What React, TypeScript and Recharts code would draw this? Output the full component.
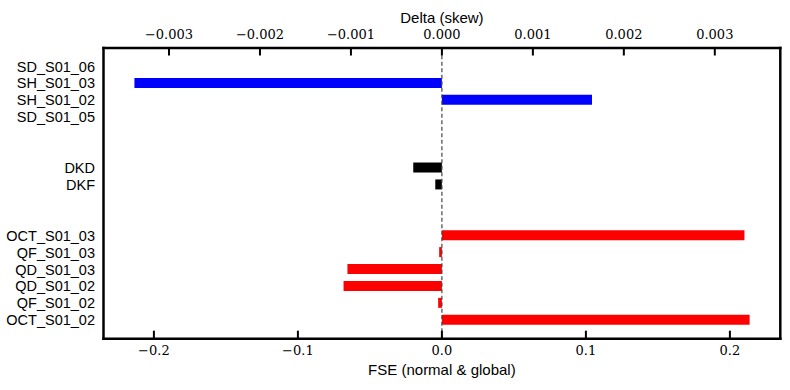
import React from "react";
import { BarChart, Bar, XAxis, YAxis, Cell, ReferenceLine } from "recharts";

// row ids (gap rows keep the groups apart)
const rowIds = [
  "SD_S01_06", "SH_S01_03", "SH_S01_02", "SD_S01_05",
  "gap1", "gap2",
  "DKD", "DKF",
  "gap3", "gap4",
  "OCT_S01_03", "QF_S01_03", "QD_S01_03", "QD_S01_02", "QF_S01_02", "OCT_S01_02",
];

// FSE (normal & global), bottom axis
const fseValues = [
  null, null, null, null,
  null, null,
  -0.0199, -0.0046,
  null, null,
  0.2101, -0.0019, -0.0656, -0.0683, -0.0026, 0.2137,
];

// Delta (skew), top axis
const skewValues = [
  null, -0.00338, 0.00165, null,
  null, null,
  null, null,
  null, null,
  null, null, null, null, null, null,
];

const rowColors = [
  "#0000ff", "#0000ff", "#0000ff", "#0000ff",
  "#000000", "#000000",
  "#000000", "#000000",
  "#ff0000", "#ff0000",
  "#ff0000", "#ff0000", "#ff0000", "#ff0000", "#ff0000", "#ff0000",
];

const fseTicks = [-0.2, -0.1, 0, 0.1, 0.2];
const skewTicks = [-0.003, -0.002, -0.001, 0, 0.001, 0.002, 0.003];

const data = rowIds.map((id, i) => ({ id, fse: fseValues[i], skew: skewValues[i] }));

const SANS = "'Liberation Sans', Arial, sans-serif";
const SERIF = "'DejaVu Serif', serif";

const fmt = (v: number, digits: number) => {
  const s = Math.abs(v).toFixed(digits);
  return v < -1e-12 ? "\u2212" + s : s;
};

const TopTick = (props: any) => {
  const { x, y, payload } = props;
  return (
    <g>
      <line x1={x} y1={y} x2={x} y2={y + 7.5} stroke="#000" strokeWidth={2} />
      <text x={x} y={y - 8.7} textAnchor="middle" fontSize={13} fontFamily={SERIF} fill="#000" stroke="none">
        {fmt(payload.value, 3)}
      </text>
    </g>
  );
};

const BottomTick = (props: any) => {
  const { x, y, payload } = props;
  return (
    <g>
      <line x1={x} y1={y} x2={x} y2={y - 8} stroke="#000" strokeWidth={2} />
      <text x={x} y={y + 16.5} textAnchor="middle" fontSize={13} fontFamily={SERIF} fill="#000" stroke="none">
        {fmt(payload.value, 1)}
      </text>
    </g>
  );
};

const RowTick = (props: any) => {
  const { x, y, payload } = props;
  const label = String(payload.value).startsWith("gap") ? "" : payload.value;
  return (
    <text x={x - 8.5} y={y} dy="0.35em" textAnchor="end" fontSize={14.5} fontFamily={SANS} fill="#000" stroke="none">
      {label}
    </text>
  );
};

const frameLine = { stroke: "#000", strokeWidth: 2.5, strokeLinecap: "square" as const };

export default function App() {
  return (
    <div style={{ position: "absolute", left: 0, top: 0, background: "#fff" }}>
      <BarChart
        width={790}
        height={390}
        data={data}
        layout="vertical"
        margin={{ top: 0, right: 0, bottom: 0, left: 0 }}
        barGap={-10}
      >
        <XAxis
          xAxisId="top"
          orientation="top"
          type="number"
          domain={[-0.00372, 0.00372]}
          ticks={skewTicks}
          height={48}
          tickSize={0}
          tickMargin={0}
          tickLine={false}
          tick={<TopTick />}
          stroke="#000"
          axisLine={frameLine}
          allowDataOverflow
          label={{ value: "Delta (skew)", position: "insideTop", offset: 12.3, fontSize: 15, fontFamily: SANS, fill: "#000", stroke: "none" }}
        />
        <XAxis
          xAxisId="bottom"
          orientation="bottom"
          type="number"
          domain={[-0.235, 0.235]}
          ticks={fseTicks}
          height={51.3}
          tickSize={0}
          tickMargin={0}
          tickLine={false}
          tick={<BottomTick />}
          stroke="#000"
          axisLine={frameLine}
          allowDataOverflow
          label={{ value: "FSE (normal & global)", position: "insideBottom", offset: 15.5, fontSize: 15, fontFamily: SANS, fill: "#000", stroke: "none" }}
        />
        <YAxis
          type="category"
          dataKey="id"
          width={103.5}
          padding={{ top: 10, bottom: 10 }}
          tickSize={0}
          tickMargin={0}
          tickLine={false}
          tick={<RowTick />}
          interval={0}
          stroke="#000"
          axisLine={frameLine}
        />
        <YAxis
          yAxisId="right"
          orientation="right"
          type="category"
          dataKey="id"
          width={9.7}
          tick={false}
          tickLine={false}
          stroke="#000"
          axisLine={frameLine}
        />
        <Bar dataKey="skew" xAxisId="top" barSize={10} isAnimationActive={false}>
          {data.map((d, i) => (
            <Cell key={d.id} fill={rowColors[i]} />
          ))}
        </Bar>
        <Bar dataKey="fse" xAxisId="bottom" barSize={10} isAnimationActive={false}>
          {data.map((d, i) => (
            <Cell key={d.id} fill={rowColors[i]} />
          ))}
        </Bar>
        <ReferenceLine x={0} xAxisId="bottom" stroke="#444" strokeWidth={1.2} strokeDasharray="4 2.5" />
      </BarChart>
    </div>
  );
}
